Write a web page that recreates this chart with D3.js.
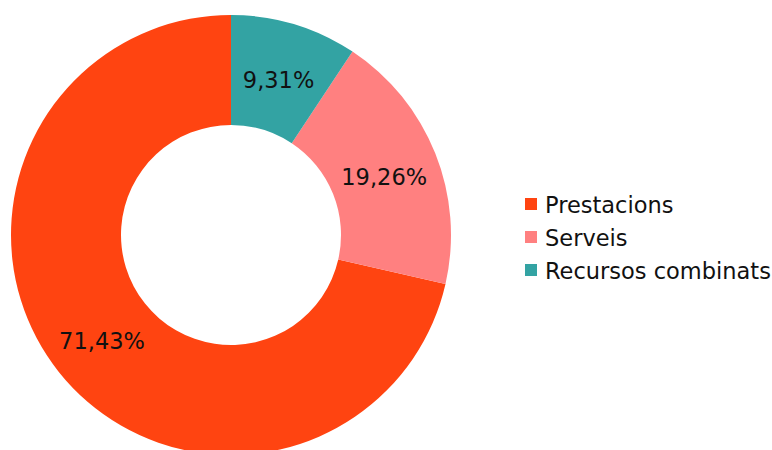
<!DOCTYPE html>
<html>
<head>
<meta charset="utf-8">
<script src="https://cdn.jsdelivr.net/npm/d3@7"></script>
<style>
  body { margin: 0; background: #fff; }
  svg text { font-family: "DejaVu Sans", Verdana, sans-serif; }
</style>
</head>
<body>
<div id="chart"></div>
<script>
// Data
const categories = ["Prestacions", "Serveis", "Recursos combinats"];
const values = [71.43, 19.26, 9.31];
const colors = ["#FF4411", "#FF8080", "#33A3A3"];

const width = 772, height = 450;
const cx = 231, cy = 235;
const outerR = 220, innerR = 110;

const svg = d3.select("#chart")
  .append("svg")
  .attr("width", width)
  .attr("height", height);

const color = d3.scaleOrdinal().domain(categories).range(colors);

const pieData = categories.map((c, i) => ({ name: c, value: values[i] }));

// slices go counter-clockwise from the top, first one = Prestacions
const pie = d3.pie()
  .value(d => d.value)
  .sort(null)
  .startAngle(2 * Math.PI)
  .endAngle(0);

const arc = d3.arc().innerRadius(innerR).outerRadius(outerR);

const g = svg.append("g").attr("transform", `translate(${cx},${cy})`);

const arcs = pie(pieData);

g.selectAll("path")
  .data(arcs)
  .enter()
  .append("path")
  .attr("d", arc)
  .attr("fill", d => color(d.data.name));

const fmt = v => v.toFixed(2).replace(".", ",") + "%";

g.selectAll("text.lbl")
  .data(arcs)
  .enter()
  .append("text")
  .attr("class", "lbl")
  .attr("transform", d => `translate(${arc.centroid(d)})`)
  .attr("text-anchor", "middle")
  .attr("dy", "0.5em")
  .attr("font-size", 22.5)
  .attr("fill", "#111")
  .text(d => fmt(d.data.value));

// Legend
const legend = svg.append("g").attr("transform", "translate(525,204)");
const rows = legend.selectAll("g")
  .data(categories)
  .enter()
  .append("g")
  .attr("transform", (d, i) => `translate(0,${i * 33})`);

rows.append("rect")
  .attr("x", 0)
  .attr("y", -6)
  .attr("width", 12)
  .attr("height", 12)
  .attr("fill", d => color(d));

rows.append("text")
  .attr("x", 20)
  .attr("dy", "0.38em")
  .attr("font-size", 22.5)
  .attr("fill", "#111")
  .text(d => d);
</script>
</body>
</html>
